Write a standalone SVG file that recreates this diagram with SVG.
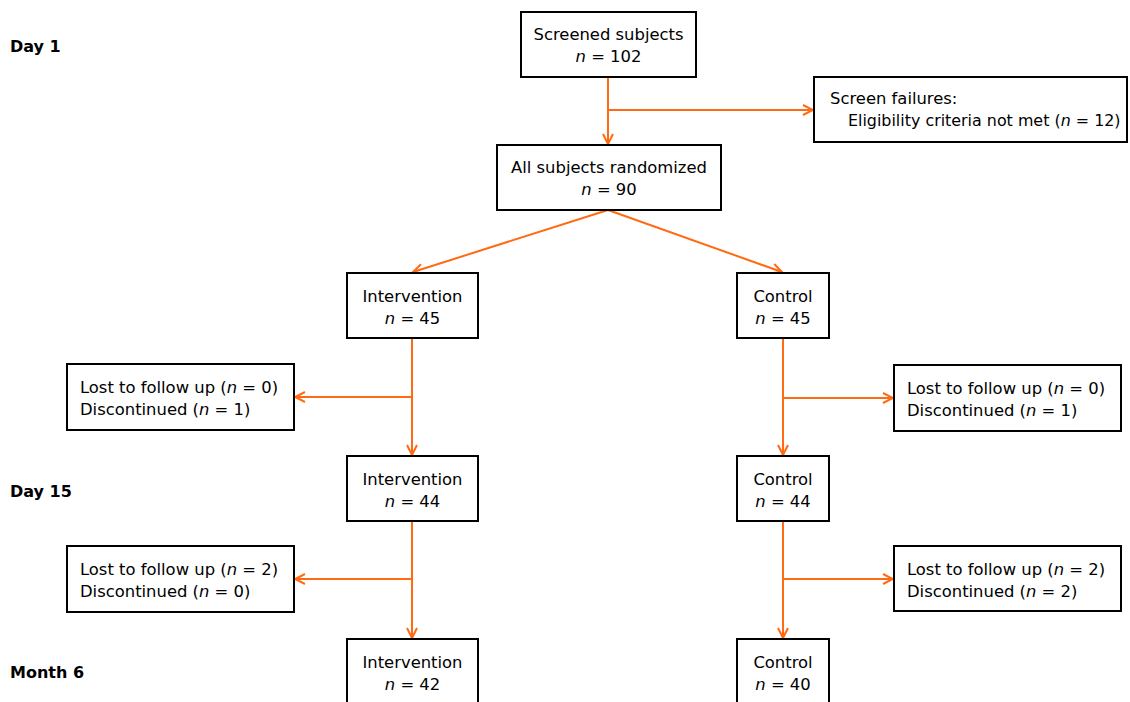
<svg xmlns="http://www.w3.org/2000/svg" width="1130" height="702" viewBox="0 0 1130 702">
<style>
.box{fill:#fff;stroke:#000;stroke-width:2}
.t{font-family:"DejaVu Sans",Verdana,sans-serif;font-size:16.4px;fill:#000}
.c{text-anchor:middle}
.lbl{font-family:"DejaVu Sans",Verdana,sans-serif;font-size:16px;font-weight:bold;fill:#000}
.ln{fill:none;stroke:#FF6A13;stroke-width:2}
</style>
<defs>
<marker id="ah" viewBox="0 0 12 12" refX="11" refY="6" markerWidth="12" markerHeight="12" markerUnits="userSpaceOnUse" orient="auto">
<path d="M1,1 L11,6 L1,11" fill="none" stroke="#FF6A13" stroke-width="2"/>
</marker>
</defs>
<rect width="1130" height="702" fill="#fff"/>
<g id="labels">
<text class="lbl" x="10" y="52">Day 1</text>
<text class="lbl" x="10" y="497">Day 15</text>
<text class="lbl" x="10" y="678">Month 6</text>
</g>
<g id="connectors">
<path class="ln" d="M608,77 V144" marker-end="url(#ah)"/>
<path class="ln" d="M608,110 H813" marker-end="url(#ah)"/>
<path class="ln" d="M608,210 L413,272" marker-end="url(#ah)"/>
<path class="ln" d="M608,210 L782,272" marker-end="url(#ah)"/>
<path class="ln" d="M412,338 V455" marker-end="url(#ah)"/>
<path class="ln" d="M412,397 H295" marker-end="url(#ah)"/>
<path class="ln" d="M783,338 V455" marker-end="url(#ah)"/>
<path class="ln" d="M783,398 H893" marker-end="url(#ah)"/>
<path class="ln" d="M412,521 V638" marker-end="url(#ah)"/>
<path class="ln" d="M412,579 H295" marker-end="url(#ah)"/>
<path class="ln" d="M783,521 V638" marker-end="url(#ah)"/>
<path class="ln" d="M783,579 H893" marker-end="url(#ah)"/>
</g>
<g id="screened">
<rect class="box" x="521" y="12" width="175" height="65"/>
<text class="t c" x="608.5" y="40">Screened subjects</text>
<text class="t c" x="608.5" y="62"><tspan font-style="italic">n</tspan> = 102</text>
</g>
<g id="failures">
<rect class="box" x="814" y="77" width="313" height="65"/>
<text class="t" x="830" y="104">Screen failures:</text>
<text class="t" x="848" y="126" style="font-size:15.9px">Eligibility criteria not met (<tspan font-style="italic">n</tspan> = 12)</text>
</g>
<g id="randomized">
<rect class="box" x="497" y="145" width="224" height="65"/>
<text class="t c" x="609" y="173">All subjects randomized</text>
<text class="t c" x="609" y="195"><tspan font-style="italic">n</tspan> = 90</text>
</g>
<g id="int45">
<rect class="box" x="347" y="273" width="131" height="65"/>
<text class="t c" x="412.5" y="302">Intervention</text>
<text class="t c" x="412.5" y="324"><tspan font-style="italic">n</tspan> = 45</text>
</g>
<g id="ctl45">
<rect class="box" x="737" y="273" width="92" height="65"/>
<text class="t c" x="783" y="302">Control</text>
<text class="t c" x="783" y="324"><tspan font-style="italic">n</tspan> = 45</text>
</g>
<g id="lostL1">
<rect class="box" x="67" y="364" width="227" height="66"/>
<text class="t" x="80" y="393">Lost to follow up (<tspan font-style="italic">n</tspan> = 0)</text>
<text class="t" x="80" y="415">Discontinued (<tspan font-style="italic">n</tspan> = 1)</text>
</g>
<g id="lostR1">
<rect class="box" x="894" y="365" width="227" height="66"/>
<text class="t" x="907" y="394">Lost to follow up (<tspan font-style="italic">n</tspan> = 0)</text>
<text class="t" x="907" y="416">Discontinued (<tspan font-style="italic">n</tspan> = 1)</text>
</g>
<g id="int44">
<rect class="box" x="347" y="456" width="131" height="65"/>
<text class="t c" x="412.5" y="485">Intervention</text>
<text class="t c" x="412.5" y="507"><tspan font-style="italic">n</tspan> = 44</text>
</g>
<g id="ctl44">
<rect class="box" x="737" y="456" width="92" height="65"/>
<text class="t c" x="783" y="485">Control</text>
<text class="t c" x="783" y="507"><tspan font-style="italic">n</tspan> = 44</text>
</g>
<g id="lostL2">
<rect class="box" x="67" y="546" width="227" height="66"/>
<text class="t" x="80" y="575">Lost to follow up (<tspan font-style="italic">n</tspan> = 2)</text>
<text class="t" x="80" y="597">Discontinued (<tspan font-style="italic">n</tspan> = 0)</text>
</g>
<g id="lostR2">
<rect class="box" x="894" y="546" width="227" height="65"/>
<text class="t" x="907" y="575">Lost to follow up (<tspan font-style="italic">n</tspan> = 2)</text>
<text class="t" x="907" y="597">Discontinued (<tspan font-style="italic">n</tspan> = 2)</text>
</g>
<g id="int42">
<rect class="box" x="347" y="639" width="131" height="70"/>
<text class="t c" x="412.5" y="668">Intervention</text>
<text class="t c" x="412.5" y="690"><tspan font-style="italic">n</tspan> = 42</text>
</g>
<g id="ctl40">
<rect class="box" x="737" y="639" width="92" height="70"/>
<text class="t c" x="783" y="668">Control</text>
<text class="t c" x="783" y="690"><tspan font-style="italic">n</tspan> = 40</text>
</g>
</svg>
